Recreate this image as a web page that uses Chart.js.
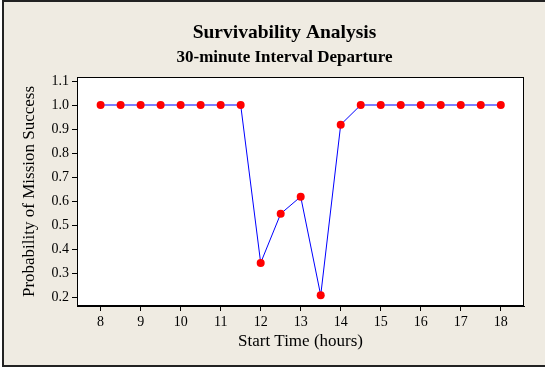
<!DOCTYPE html>
<html>
<head>
<meta charset="utf-8">
<script src="https://cdn.jsdelivr.net/npm/chart.js@4"></script>
<style>
  html, body { margin: 0; padding: 0; background: #fff; }
  #wrap { width: 545px; height: 368px; }
</style>
</head>
<body>
<div id="wrap"><canvas id="surv" width="545" height="368"></canvas></div>
<script>
// start times (hours) and probability of mission success
var hours = [8, 8.5, 9, 9.5, 10, 10.5, 11, 11.5, 12, 12.5, 13, 13.5, 14, 14.5, 15, 15.5, 16, 16.5, 17, 17.5, 18];
var probability = [1.0, 1.0, 1.0, 1.0, 1.0, 1.0, 1.0, 1.0, 0.342, 0.547, 0.618, 0.207, 0.918, 1.0, 1.0, 1.0, 1.0, 1.0, 1.0, 1.0, 1.0];
var xTicks = [8, 9, 10, 11, 12, 13, 14, 15, 16, 17, 18];
var yTicks = [0.2, 0.3, 0.4, 0.5, 0.6, 0.7, 0.8, 0.9, 1.0, 1.1];

var points = [];
for (var i in hours) {
  points.push({x: hours[i], y: probability[i]});
}

// beige frame behind everything, white plot area with black box
var frame = {
  id: 'frame',
  beforeDraw: function(chart) {
    var c = chart.ctx, a = chart.chartArea;
    c.save();
    c.fillStyle = '#ffffff';
    c.fillRect(0, 0, chart.width, chart.height);
    c.fillStyle = '#efebe2';
    c.fillRect(3, 1, chart.width, 365);
    c.strokeStyle = '#222';
    c.lineWidth = 2;
    c.beginPath();
    c.moveTo(chart.width + 2, 1);
    c.lineTo(3, 1);
    c.lineTo(3, 366);
    c.lineTo(chart.width + 2, 366);
    c.stroke();
    c.fillStyle = '#ffffff';
    c.fillRect(a.left, a.top, a.right - a.left, a.bottom - a.top);
    c.restore();
  },
  afterDraw: function(chart) {
    var c = chart.ctx, a = chart.chartArea;
    c.save();
    c.strokeStyle = '#000';
    c.lineWidth = 1;
    c.strokeRect(a.left + 0.5, a.top + 0.5, a.right - a.left - 1, a.bottom - a.top - 1);
    c.restore();
  }
};

var serif = "'Liberation Serif', 'DejaVu Serif', serif";

new Chart(document.getElementById('surv'), {
  type: 'line',
  data: {
    datasets: [{
      data: points,
      borderColor: '#0000ff',
      borderWidth: 1,
      pointRadius: 4,
      pointHoverRadius: 4,
      pointBorderWidth: 0,
      pointBackgroundColor: '#ff0000',
      pointBorderColor: '#ff0000',
      tension: 0,
      fill: false
    }]
  },
  options: {
    responsive: false,
    animation: false,
    // wide left padding keeps the titles centred on the frame, not the canvas
    layout: { padding: { left: 45, right: 21, top: 0, bottom: 10 } },
    plugins: {
      legend: { display: false },
      tooltip: { enabled: false },
      title: {
        display: true,
        text: 'Survivability Analysis',
        color: '#000',
        font: { family: serif, size: 19.5, weight: 'bold' },
        padding: { top: 21, bottom: 3 }
      },
      subtitle: {
        display: true,
        text: '30-minute Interval Departure',
        color: '#000',
        font: { family: serif, size: 17, weight: 'bold' },
        padding: { top: 0, bottom: 9.2 }
      }
    },
    scales: {
      x: {
        type: 'linear',
        min: 7.41,
        max: 18.58,
        afterBuildTicks: function(s) { s.ticks = xTicks.map(function(v) { return {value: v}; }); },
        afterFit: function(s) { s.height = 52; },
        grid: { drawOnChartArea: false, tickLength: 5, color: '#000', tickColor: '#000' },
        border: { display: true, color: '#000' },
        ticks: { color: '#000', font: { family: serif, size: 14 }, padding: 3, maxRotation: 0 },
        title: {
          display: true,
          text: 'Start Time (hours)',
          color: '#000',
          font: { family: serif, size: 17 },
          padding: { top: 0, bottom: 5.8 }
        }
      },
      y: {
        min: 0.1625,
        max: 1.1167,
        afterBuildTicks: function(s) { s.ticks = yTicks.map(function(v) { return {value: v}; }); },
        afterFit: function(s) { s.width = 32; },
        grid: { drawOnChartArea: false, tickLength: 5, color: '#000', tickColor: '#000' },
        border: { display: true, color: '#000' },
        ticks: {
          color: '#000',
          font: { family: serif, size: 14 },
          padding: 3,
          callback: function(v) { return v.toFixed(1); }
        },
        title: {
          display: true,
          text: 'Probability of Mission Success',
          color: '#000',
          font: { family: serif, size: 17 },
          padding: { top: -25.2, bottom: 0 }
        }
      }
    }
  },
  plugins: [frame]
});
</script>
</body>
</html>
